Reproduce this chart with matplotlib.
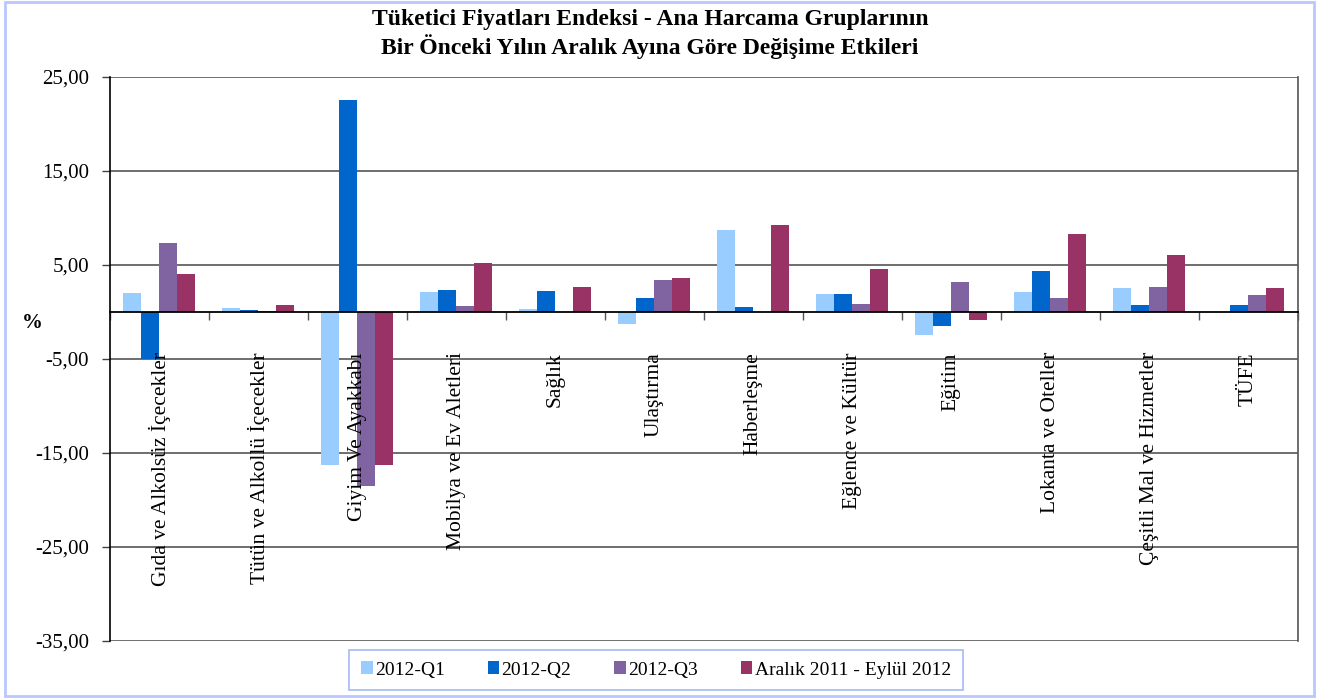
import matplotlib
matplotlib.use("Agg")
import matplotlib.pyplot as plt
import numpy as np
from matplotlib.ticker import FuncFormatter, FixedLocator
from matplotlib.patches import Rectangle

categories = ["Gıda ve Alkolsüz İçecekler", "Tütün ve Alkollü İçecekler", "Giyim Ve Ayakkabı",
              "Mobilya ve Ev Aletleri", "Sağlık", "Ulaştırma", "Haberleşme", "Eğlence ve Kültür",
              "Eğitim", "Lokanta ve Oteller", "Çeşitli Mal ve Hizmetler", "TÜFE"]
series_names = ["2012-Q1", "2012-Q2", "2012-Q3", "Aralık 2011 - Eylül 2012"]
q1 = [2.0, 0.4, -16.35, 2.1, 0.25, -1.35, 8.7, 1.85, -2.48, 2.16, 2.55, 0.0]
q2 = [-5.03, 0.18, 22.6, 2.3, 2.23, 1.5, 0.53, 1.85, -1.52, 4.36, 0.74, 0.71]
q3 = [7.3, 0.1, -18.5, 0.6, 0.0, 3.4, 0.0, 0.78, 3.12, 1.49, 2.62, 1.77]
cum = [4.0, 0.74, -16.35, 5.2, 2.6, 3.6, 9.26, 4.6, -0.88, 8.27, 6.1, 2.55]
colors = ["#99CCFF", "#0066CC", "#8064A2", "#993366"]
yticks = [-35, -25, -15, -5, 5, 15, 25]

plt.rcParams['font.family'] = ['Liberation Serif', 'DejaVu Serif']

W, H = 1328, 698
fig = plt.figure(figsize=(W / 100, H / 100), dpi=100)
fig.patch.set_facecolor('white')
ax = fig.add_axes([110 / W, 1 - 640.5 / H, (1297.5 - 110) / W, (640.5 - 77) / H])

x = np.arange(len(categories))
bw = 0.182
for k, (vals, c, name) in enumerate(zip([q1, q2, q3, cum], colors, series_names)):
    ax.bar(x + (k - 1.5) * bw, vals, width=bw, color=c, label=name, linewidth=0, zorder=3)

ax.set_xlim(-0.5, len(categories) - 0.5)
ax.set_ylim(-35, 25)
ax.yaxis.set_major_locator(FixedLocator(yticks))
ax.yaxis.set_major_formatter(FuncFormatter(lambda v, p: f"{v:.2f}".replace('.', ',')))
ax.tick_params(axis='y', direction='out', length=6, width=1, color='#404040', labelsize=15, pad=9)
ax.grid(axis='y', color='#555555', linewidth=1.2, zorder=0)

# x axis at zero with ticks at category boundaries
ax.spines['bottom'].set_position(('data', 0))
ax.spines['bottom'].set_color('black')
ax.spines['bottom'].set_linewidth(1.3)
ax.spines['bottom'].set_zorder(4)
ax.set_xticks(np.arange(len(categories) + 1) - 0.5)
ax.set_xticklabels([])
ax.tick_params(axis='x', direction='out', length=6, width=1, color='#555555')
ax.spines['top'].set_visible(False)
ax.spines['right'].set_color('#555555')
ax.spines['right'].set_linewidth(1.2)
ax.spines['left'].set_color('black')
ax.spines['left'].set_linewidth(1.2)

for i, cat in enumerate(categories):
    ax.annotate(cat, xy=(i, 0), xytext=(0, -29), textcoords='offset points',
                rotation=90, ha='center', va='top', fontsize=15.5, zorder=5)

fig.text(32 / W, 1 - 323 / H, "%", fontsize=15, fontweight='bold', ha='center', va='center')
fig.text(650 / W, 1 - 20 / H, "Tüketici Fiyatları Endeksi - Ana Harcama Gruplarının",
         fontsize=17, fontweight='bold', ha='center', va='center')
fig.text(650 / W, 1 - 47 / H, "Bir Önceki Yılın Aralık Ayına Göre Değişime Etkileri",
         fontsize=17, fontweight='bold', ha='center', va='center')

leg = fig.legend(loc='center', bbox_to_anchor=(656 / W, 1 - 670 / H), ncol=4, fontsize=14,
                 frameon=True, fancybox=False, edgecolor='#8FA8F0', handlelength=0.6,
                 handleheight=0.6, handletextpad=0.12, columnspacing=2.2,
                 borderpad=0.6)
leg.get_frame().set_linewidth(1.2)

fig.patches.append(Rectangle((5 / W, 2 / H), (1314 - 5) / W, (696 - 2) / H, transform=fig.transFigure,
                             fill=False, edgecolor='#B8C8FF', linewidth=2))

fig.savefig("out.png", dpi=100, facecolor='white')
